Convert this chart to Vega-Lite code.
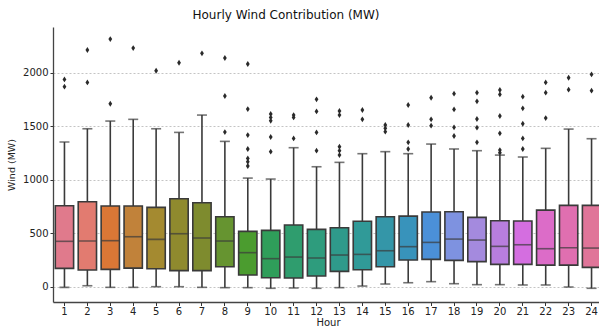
{
  "$schema": "https://vega.github.io/schema/vega-lite/v6.json",
  "width": 550,
  "height": 275,
  "autosize": {"type": "none"},
  "padding": {"left": 53, "top": 27, "right": 0, "bottom": 25},
  "background": "white",
  "config": {
    "font": "DejaVu Sans",
    "view": {"stroke": null},
    "axis": {"labelFont": "DejaVu Sans", "titleFont": "DejaVu Sans", "labelColor": "#222", "titleColor": "#222", "titleFontWeight": "normal"}
  },
  "title": {"text": "Hourly Wind Contribution (MW)", "fontSize": 12, "fontWeight": "normal", "color": "#111", "anchor": "middle", "frame": "group", "dx": -42, "offset": 5, "font": "DejaVu Sans"},
  "datasets": {
    "stats": [
      {"hour": 1, "lo": -6, "q1": 171, "med": 424, "q3": 757, "hi": 1352},
      {"hour": 2, "lo": 9, "q1": 156, "med": 427, "q3": 794, "hi": 1476},
      {"hour": 3, "lo": -6, "q1": 162, "med": 430, "q3": 754, "hi": 1548},
      {"hour": 4, "lo": -6, "q1": 174, "med": 467, "q3": 754, "hi": 1564},
      {"hour": 5, "lo": 0, "q1": 168, "med": 442, "q3": 741, "hi": 1476},
      {"hour": 6, "lo": 0, "q1": 150, "med": 495, "q3": 822, "hi": 1442},
      {"hour": 7, "lo": -6, "q1": 150, "med": 455, "q3": 785, "hi": 1604},
      {"hour": 8, "lo": -9, "q1": 187, "med": 427, "q3": 654, "hi": 1358},
      {"hour": 9, "lo": -9, "q1": 109, "med": 318, "q3": 517, "hi": 1015},
      {"hour": 10, "lo": -15, "q1": 84, "med": 262, "q3": 526, "hi": 1006},
      {"hour": 11, "lo": -12, "q1": 81, "med": 277, "q3": 576, "hi": 1299},
      {"hour": 12, "lo": -15, "q1": 100, "med": 268, "q3": 536, "hi": 1121},
      {"hour": 13, "lo": -9, "q1": 143, "med": 296, "q3": 551, "hi": 1162},
      {"hour": 14, "lo": 6, "q1": 159, "med": 302, "q3": 611, "hi": 1243},
      {"hour": 15, "lo": 25, "q1": 187, "med": 336, "q3": 654, "hi": 1262},
      {"hour": 16, "lo": 37, "q1": 249, "med": 374, "q3": 660, "hi": 1243},
      {"hour": 17, "lo": 47, "q1": 255, "med": 414, "q3": 698, "hi": 1333},
      {"hour": 18, "lo": 28, "q1": 246, "med": 445, "q3": 701, "hi": 1287},
      {"hour": 19, "lo": 19, "q1": 234, "med": 436, "q3": 648, "hi": 1271},
      {"hour": 20, "lo": 19, "q1": 209, "med": 377, "q3": 617, "hi": 1230},
      {"hour": 21, "lo": 16, "q1": 209, "med": 392, "q3": 614, "hi": 1212},
      {"hour": 22, "lo": 16, "q1": 202, "med": 355, "q3": 716, "hi": 1293},
      {"hour": 23, "lo": -3, "q1": 202, "med": 364, "q3": 760, "hi": 1473},
      {"hour": 24, "lo": -15, "q1": 181, "med": 361, "q3": 760, "hi": 1383}
    ],
    "outliers": [
      {"hour": 1, "wind": 1937}, {"hour": 1, "wind": 1869},
      {"hour": 2, "wind": 2212}, {"hour": 2, "wind": 1909},
      {"hour": 3, "wind": 2314}, {"hour": 3, "wind": 1710},
      {"hour": 4, "wind": 2230},
      {"hour": 5, "wind": 2018},
      {"hour": 6, "wind": 2093},
      {"hour": 7, "wind": 2181},
      {"hour": 8, "wind": 2137}, {"hour": 8, "wind": 1782}, {"hour": 8, "wind": 1445},
      {"hour": 9, "wind": 2081}, {"hour": 9, "wind": 1660}, {"hour": 9, "wind": 1417}, {"hour": 9, "wind": 1287}, {"hour": 9, "wind": 1199}, {"hour": 9, "wind": 1168}, {"hour": 9, "wind": 1128},
      {"hour": 10, "wind": 1614}, {"hour": 10, "wind": 1582}, {"hour": 10, "wind": 1551}, {"hour": 10, "wind": 1399}, {"hour": 10, "wind": 1262},
      {"hour": 11, "wind": 1604}, {"hour": 11, "wind": 1582}, {"hour": 11, "wind": 1386},
      {"hour": 12, "wind": 1751}, {"hour": 12, "wind": 1638}, {"hour": 12, "wind": 1442}, {"hour": 12, "wind": 1271},
      {"hour": 13, "wind": 1642}, {"hour": 13, "wind": 1604}, {"hour": 13, "wind": 1308}, {"hour": 13, "wind": 1271}, {"hour": 13, "wind": 1230},
      {"hour": 14, "wind": 1651}, {"hour": 14, "wind": 1564},
      {"hour": 15, "wind": 1511}, {"hour": 15, "wind": 1480}, {"hour": 15, "wind": 1449},
      {"hour": 16, "wind": 1698}, {"hour": 16, "wind": 1511}, {"hour": 16, "wind": 1349}, {"hour": 16, "wind": 1287},
      {"hour": 17, "wind": 1766}, {"hour": 17, "wind": 1564}, {"hour": 17, "wind": 1505},
      {"hour": 18, "wind": 1804}, {"hour": 18, "wind": 1657}, {"hour": 18, "wind": 1489}, {"hour": 18, "wind": 1408},
      {"hour": 19, "wind": 1813}, {"hour": 19, "wind": 1732}, {"hour": 19, "wind": 1567}, {"hour": 19, "wind": 1486}, {"hour": 19, "wind": 1349},
      {"hour": 20, "wind": 1838}, {"hour": 20, "wind": 1797}, {"hour": 20, "wind": 1595}, {"hour": 20, "wind": 1433}, {"hour": 20, "wind": 1277}, {"hour": 20, "wind": 1252},
      {"hour": 21, "wind": 1776}, {"hour": 21, "wind": 1667}, {"hour": 21, "wind": 1523}, {"hour": 21, "wind": 1386}, {"hour": 21, "wind": 1287},
      {"hour": 22, "wind": 1909}, {"hour": 22, "wind": 1813}, {"hour": 22, "wind": 1576},
      {"hour": 23, "wind": 1953}, {"hour": 23, "wind": 1841},
      {"hour": 24, "wind": 1984}, {"hour": 24, "wind": 1832}
    ]
  },
  "encoding": {
    "x": {"field": "hour", "type": "ordinal", "title": "Hour",
      "scale": {"domain": [1,2,3,4,5,6,7,8,9,10,11,12,13,14,15,16,17,18,19,20,21,22,23,24], "paddingInner": 0, "paddingOuter": 0},
      "axis": {"labelAngle": 0, "labelFontSize": 10, "titleFontSize": 10, "tickSize": 3.5, "tickColor": "#333", "domainColor": "#444", "domainWidth": 1.3, "labelPadding": 1, "titlePadding": 1, "grid": false}}
  },
  "layer": [
    {
      "data": {"name": "stats"},
      "mark": {"type": "rule", "color": "#3a3a3a", "strokeWidth": 1.6},
      "encoding": {
        "y": {"field": "lo", "type": "quantitative", "title": "Wind (MW)",
          "scale": {"domain": [-143, 2427], "nice": false, "zero": false},
          "axis": {"values": [0, 500, 1000, 1500, 2000], "format": "d", "labelFontSize": 10, "titleFontSize": 9.5, "tickSize": 3, "tickColor": "#333", "domainColor": "#444", "domainWidth": 1.3, "grid": true, "gridColor": "#b5b5b5", "gridDash": [2, 2], "gridWidth": 0.8, "labelPadding": 2, "titlePadding": 6}},
        "y2": {"field": "hi"}
      }
    },
    {
      "data": {"name": "stats"},
      "mark": {"type": "tick", "color": "#3a3a3a", "thickness": 1.6, "size": 10},
      "encoding": {"y": {"field": "lo", "type": "quantitative"}}
    },
    {
      "data": {"name": "stats"},
      "mark": {"type": "tick", "color": "#3a3a3a", "thickness": 1.6, "size": 10},
      "encoding": {"y": {"field": "hi", "type": "quantitative"}}
    },
    {
      "data": {"name": "stats"},
      "mark": {"type": "bar", "size": 18.3, "stroke": "#3a3a3a", "strokeWidth": 1.6, "opacity": 1},
      "encoding": {
        "y": {"field": "q1", "type": "quantitative"},
        "y2": {"field": "q3"},
        "color": {"field": "hour", "type": "ordinal", "legend": null,
          "scale": {"domain": [1,2,3,4,5,6,7,8,9,10,11,12,13,14,15,16,17,18,19,20,21,22,23,24],
            "range": ["#e07a8c", "#e27b70", "#da7736", "#c1823a", "#a48a30", "#8f8a2e", "#7e8b2e", "#669430", "#4b9c2f", "#2f9e5a", "#2f9d6e", "#2e9c7d", "#2f9a8b", "#309a98", "#3496a8", "#3893bb", "#4b90d8", "#7e92e0", "#a48ade", "#b87ede", "#d46ee0", "#dc6cc8", "#e06fb0", "#e07599"]}}
      }
    },
    {
      "data": {"name": "stats"},
      "mark": {"type": "tick", "color": "#3a3a3a", "thickness": 1.6, "size": 18.3},
      "encoding": {"y": {"field": "med", "type": "quantitative"}}
    },
    {
      "data": {"name": "outliers"},
      "mark": {"type": "point", "shape": "M0,-1L0.65,0L0,1L-0.65,0Z", "filled": true, "color": "#2a2a2a", "size": 34, "opacity": 1},
      "encoding": {"y": {"field": "wind", "type": "quantitative"}}
    }
  ]
}
